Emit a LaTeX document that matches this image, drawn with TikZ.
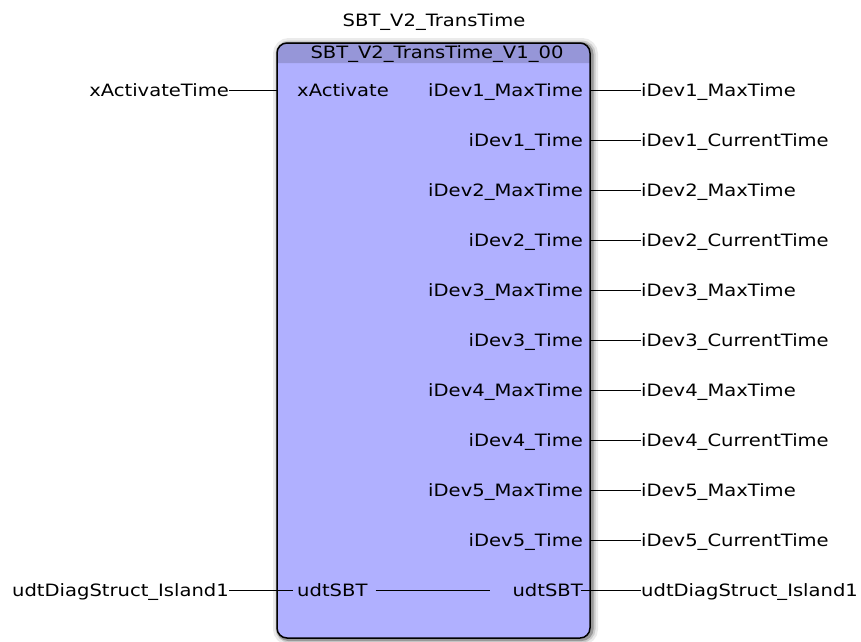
\documentclass[tikz,border=0pt]{standalone}
\usepackage{fontspec}
\setmainfont{DejaVu Sans}[FakeStretch=1.15]
\usepackage{tikz}
\usetikzlibrary{calc}

\definecolor{blockbody}{RGB}{176,176,255}
\definecolor{blockhead}{RGB}{150,150,216}

\tikzset{
    pinname/.style={inner sep=0pt, text height=15.4pt, text depth=3pt,
        font=\fontsize{17}{20}\selectfont},
    inlabel/.style={pinname, anchor=east},
    outlabel/.style={pinname, anchor=west},
    inpin/.style={pinname, anchor=west},
    outpin/.style={pinname, anchor=east},
    wire/.style={line width=1pt}
}

\begin{document}
\begin{tikzpicture}[x=1pt,y=-1pt]
\useasboundingbox (0,0) rectangle (861,641);

% Block outline
\def\BL{277}
\def\BR{590}
\def\BT{43}
\def\BB{638}
\def\BH{63}

% Soft shadow round the block
\draw[line width=12pt, black!8, rounded corners=10] (\BL+2,\BT+1) rectangle (\BR+2,\BB+1);
\draw[line width=7pt, black!20, rounded corners=10] (\BL+2,\BT+1) rectangle (\BR+2,\BB+1);
\draw[line width=4pt, black!40, rounded corners=10] (\BL+1.5,\BT+1) rectangle (\BR+1.5,\BB+1);

% Body and header band
\fill[blockbody, rounded corners=10] (\BL,\BT) rectangle (\BR,\BB);
\fill[blockhead, rounded corners=10] (\BL,\BH) -- (\BL,\BT) -- (\BR,\BT) -- (\BR,\BH);
\fill[blockhead] (\BL,\BH-8) rectangle (\BR,\BH);
\draw[line width=1.5pt, rounded corners=10] (\BL,\BT) rectangle (\BR,\BB);

% Instance and type names
\node[pinname] (instname) at (434,20) {SBT\_V2\_TransTime};
\node[pinname] (typename) at (437,52) {SBT\_V2\_TransTime\_V1\_00};

% Inputs
\node[inlabel] (xActivateTime) at (229,90) {xActivateTime};
\node[inpin] (xActivate) at (297,90) {xActivate};
\coordinate (inA) at (\BL,90);
\draw[wire] (xActivateTime.east) -- (inA);

\node[inlabel] (udtIslandIn) at (229,590) {udtDiagStruct\_Island1};
\node[inpin] (udtSBTin) at (297,590) {udtSBT};
\draw[wire] (udtIslandIn.east) -- ([xshift=-4pt]udtSBTin.west);

% Outputs
\node[outpin] (pDevOneMax) at (583,90) {iDev1\_MaxTime};
\node[outlabel] (devOneMax) at (641,90) {iDev1\_MaxTime};
\coordinate (outA) at (\BR,90);
\draw[wire] (outA) -- (devOneMax.west);

\node[outpin] (pDevOneTime) at (583,140) {iDev1\_Time};
\node[outlabel] (devOneTime) at (641,140) {iDev1\_CurrentTime};
\coordinate (outB) at (\BR,140);
\draw[wire] (outB) -- (devOneTime.west);

\node[outpin] (pDevTwoMax) at (583,190) {iDev2\_MaxTime};
\node[outlabel] (devTwoMax) at (641,190) {iDev2\_MaxTime};
\coordinate (outC) at (\BR,190);
\draw[wire] (outC) -- (devTwoMax.west);

\node[outpin] (pDevTwoTime) at (583,240) {iDev2\_Time};
\node[outlabel] (devTwoTime) at (641,240) {iDev2\_CurrentTime};
\coordinate (outD) at (\BR,240);
\draw[wire] (outD) -- (devTwoTime.west);

\node[outpin] (pDevThreeMax) at (583,290) {iDev3\_MaxTime};
\node[outlabel] (devThreeMax) at (641,290) {iDev3\_MaxTime};
\coordinate (outE) at (\BR,290);
\draw[wire] (outE) -- (devThreeMax.west);

\node[outpin] (pDevThreeTime) at (583,340) {iDev3\_Time};
\node[outlabel] (devThreeTime) at (641,340) {iDev3\_CurrentTime};
\coordinate (outF) at (\BR,340);
\draw[wire] (outF) -- (devThreeTime.west);

\node[outpin] (pDevFourMax) at (583,390) {iDev4\_MaxTime};
\node[outlabel] (devFourMax) at (641,390) {iDev4\_MaxTime};
\coordinate (outG) at (\BR,390);
\draw[wire] (outG) -- (devFourMax.west);

\node[outpin] (pDevFourTime) at (583,440) {iDev4\_Time};
\node[outlabel] (devFourTime) at (641,440) {iDev4\_CurrentTime};
\coordinate (outH) at (\BR,440);
\draw[wire] (outH) -- (devFourTime.west);

\node[outpin] (pDevFiveMax) at (583,490) {iDev5\_MaxTime};
\node[outlabel] (devFiveMax) at (641,490) {iDev5\_MaxTime};
\coordinate (outI) at (\BR,490);
\draw[wire] (outI) -- (devFiveMax.west);

\node[outpin] (pDevFiveTime) at (583,540) {iDev5\_Time};
\node[outlabel] (devFiveTime) at (641,540) {iDev5\_CurrentTime};
\coordinate (outJ) at (\BR,540);
\draw[wire] (outJ) -- (devFiveTime.west);

\node[outpin] (udtSBTout) at (583,590) {udtSBT};
\node[outlabel] (udtIslandOut) at (641,590) {udtDiagStruct\_Island1};
\draw[wire] ([xshift=-2pt]udtSBTout.east) -- (udtIslandOut.west);

% In-out pass through
\draw[wire] ([xshift=8pt]udtSBTin.east) -- ([xshift=-22pt]udtSBTout.west);

\end{tikzpicture}
\end{document}
